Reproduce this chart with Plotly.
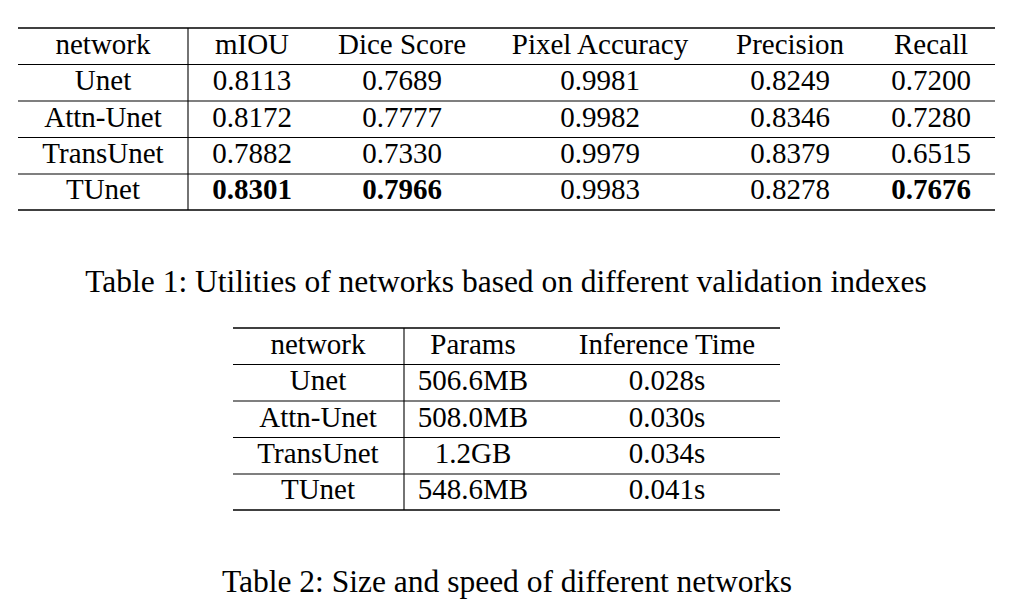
import plotly.graph_objects as go

# ---------------- data ----------------
networks = ["Unet", "Attn-Unet", "TransUnet", "TUnet"]
metric_names = ["mIOU", "Dice Score", "Pixel Accuracy", "Precision", "Recall"]
miou = [0.8113, 0.8172, 0.7882, 0.8301]
dice = [0.7689, 0.7777, 0.7330, 0.7966]
pixel_acc = [0.9981, 0.9982, 0.9979, 0.9983]
precision = [0.8249, 0.8346, 0.8379, 0.8278]
recall = [0.7200, 0.7280, 0.6515, 0.7676]
bold_cells_t1 = [("mIOU", "TUnet"), ("Dice Score", "TUnet"), ("Recall", "TUnet")]

size_names = ["Params", "Inference Time"]
params = ["506.6MB", "508.0MB", "1.2GB", "548.6MB"]
inference_time = [0.028, 0.030, 0.034, 0.041]

caption1 = "Table 1: Utilities of networks based on different validation indexes"
caption2 = "Table 2: Size and speed of different networks"

# ---------------- layout (pixel geometry) ----------------
W, H = 1022, 611
OFF = 8  # page body margin
FONT = "Liberation Serif"
FS = 29
FS_CAP = 31.5

t1_cols = [103, 252, 402, 600, 790, 931]
t1_lines = [28, 64.5, 101, 137.5, 174, 210]
t1_left, t1_right, t1_vline = 18, 995, 188

t2_cols = [318, 473, 667]
t2_lines = [328, 364.5, 401, 437.5, 474, 510]
t2_left, t2_right, t2_vline = 233, 780, 404

cap1_pos = (506, 284)
cap2_pos = (507, 584)

fig = go.Figure()


def add_text(xs, ys, texts, size=FS):
    fig.add_trace(go.Scatter(
        x=xs, y=ys, text=texts, mode="text",
        textposition="middle center",
        textfont=dict(family=FONT, size=size, color="black"),
        hoverinfo="skip", showlegend=False,
    ))


def row_center(lines, i):
    return (lines[i] + lines[i + 1]) / 2


def add_table_lines(lines, left, right, vline):
    for i, y in enumerate(lines):
        w = 1.6 if i in (0, len(lines) - 1) else 1.1
        fig.add_shape(type="line", xref="x", yref="y", x0=left, x1=right,
                      y0=y, y1=y, line=dict(color="black", width=w))
    fig.add_shape(type="line", xref="x", yref="y", x0=vline, x1=vline,
                  y0=lines[0], y1=lines[-1], line=dict(color="black", width=1.1))


# ---- Table 1 ----
header1 = ["network"] + metric_names
add_text(t1_cols, [row_center(t1_lines, 0)] * len(header1), header1)
cols1 = [miou, dice, pixel_acc, precision, recall]
for r, net in enumerate(networks):
    texts = [net]
    for name, col in zip(metric_names, cols1):
        s = f"{col[r]:.4f}"
        if (name, net) in bold_cells_t1:
            s = f"<b>{s}</b>"
        texts.append(s)
    add_text(t1_cols, [row_center(t1_lines, r + 1)] * len(texts), texts)
add_table_lines(t1_lines, t1_left, t1_right, t1_vline)

# ---- Table 2 ----
header2 = ["network"] + size_names
add_text(t2_cols, [row_center(t2_lines, 0)] * len(header2), header2)
for r, net in enumerate(networks):
    texts = [net, params[r], f"{inference_time[r]:.3f}s"]
    add_text(t2_cols, [row_center(t2_lines, r + 1)] * len(texts), texts)
add_table_lines(t2_lines, t2_left, t2_right, t2_vline)

# ---- captions ----
add_text([cap1_pos[0]], [cap1_pos[1]], [caption1], FS_CAP)
add_text([cap2_pos[0]], [cap2_pos[1]], [caption2], FS_CAP)

fig.update_layout(
    width=W, height=H,
    margin=dict(l=0, r=0, t=0, b=0),
    paper_bgcolor="white", plot_bgcolor="white",
    xaxis=dict(range=[OFF, W + OFF], visible=False, fixedrange=True),
    yaxis=dict(range=[H + OFF, OFF], visible=False, fixedrange=True),
    showlegend=False,
)

fig.write_html("out.html")
